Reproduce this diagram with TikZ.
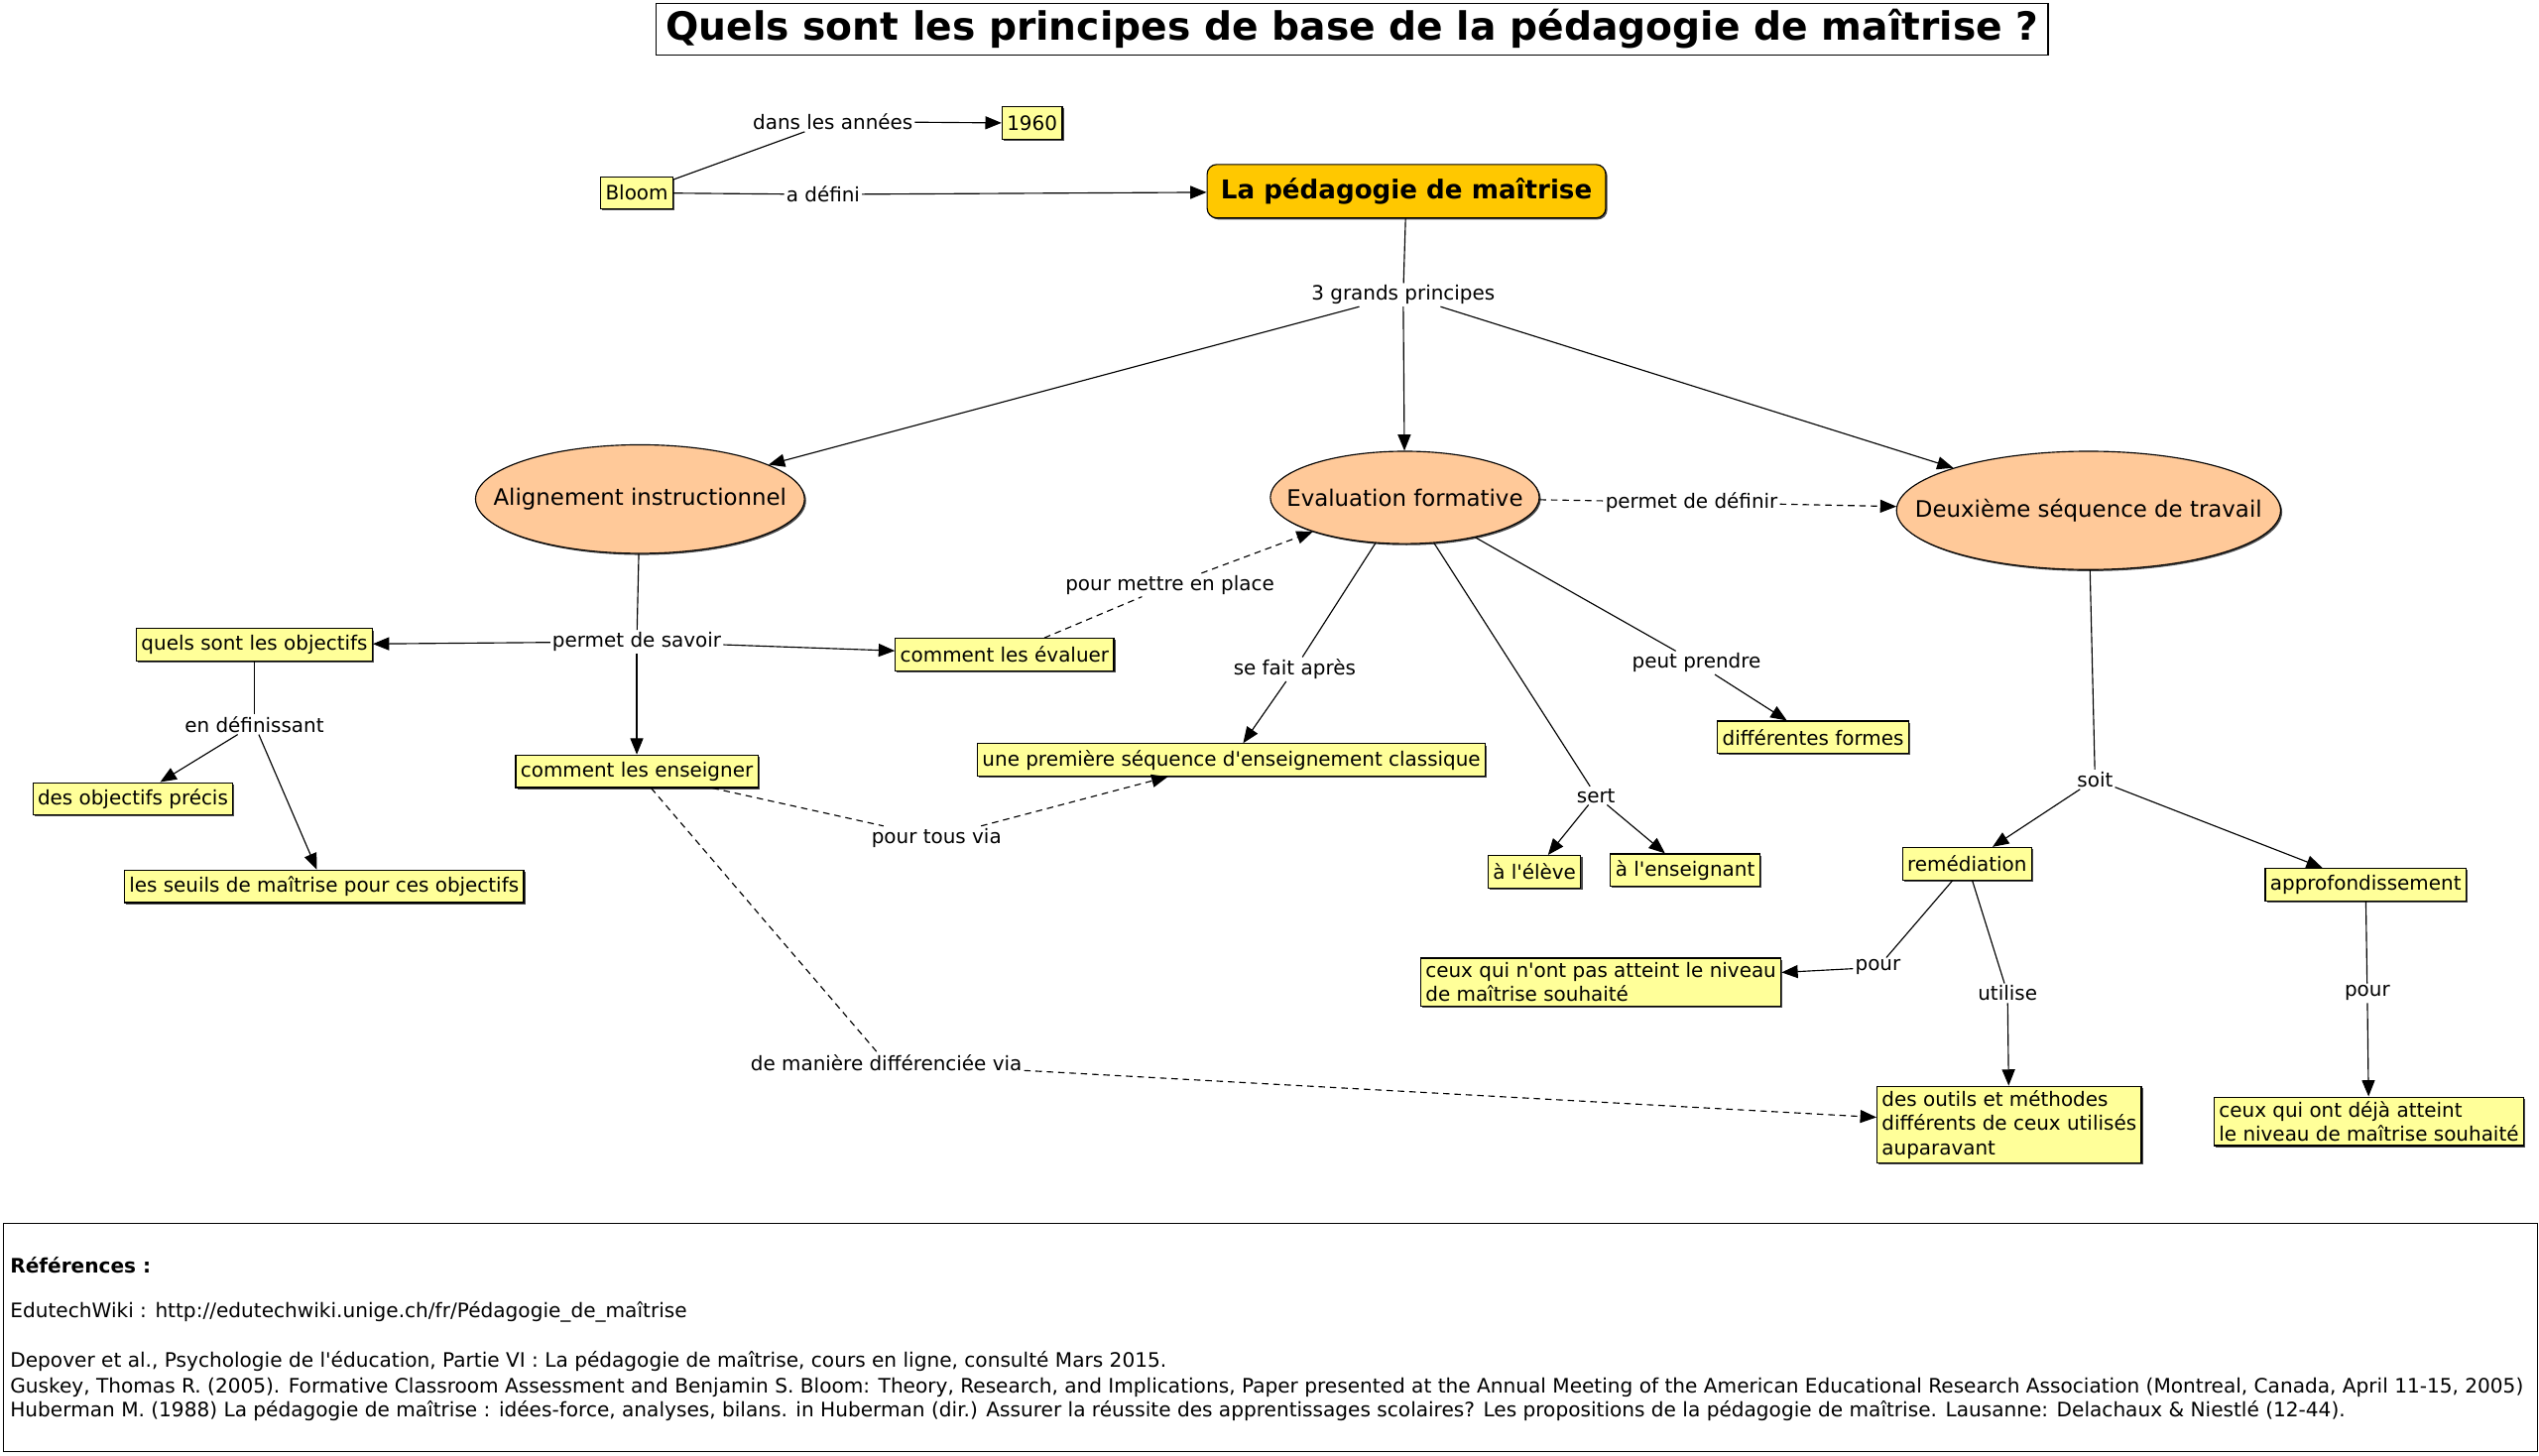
\documentclass[tikz,border=0pt]{standalone}
\usepackage{fontspec}
\setmainfont{DejaVu Sans}[Ligatures=TeXOff]
\usetikzlibrary{shapes.geometric, arrows.meta, shadows}
\definecolor{paleyellow}{RGB}{255,255,153}
\definecolor{peach}{RGB}{255,201,153}
\definecolor{gold}{RGB}{255,200,0}

\begin{document}
\begin{tikzpicture}[x=1pt, y=-1pt, line width=0.7pt,
	every node/.style={font=\fontsize{12.2}{15}\selectfont},
	shade/.style={drop shadow={shadow xshift=1pt, shadow yshift=-1pt, fill=black!70, opacity=1}},
	box/.style={draw, fill=paleyellow, inner xsep=3pt, inner ysep=2.5pt, align=left, minimum height=20pt, shade},
	idea/.style={draw, ellipse, fill=peach, inner xsep=-25pt, inner ysep=0pt, font=\fontsize{14}{16}\selectfont, shade},
	lbl/.style={fill=white, inner sep=1pt},
	arr/.style={-{Triangle[length=10pt, width=8pt]}},
	dsh/.style={dash pattern=on 4pt off 3pt}]
	\useasboundingbox (0, 0) rectangle (1567, 898);
	% titre
	\node[draw, minimum width=859, minimum height=32, inner sep=0pt, font=\bfseries\fontsize{24}{26}\selectfont] (title) at (834.5, 18) {Quels sont les principes de base de la pédagogie de maîtrise ?};
	% concepts
	\node[box] (bloom) at (393, 119) {Bloom};
	\node[box] (year) at (637, 76) {1960};
	\node[draw, rounded corners=6pt, fill=gold, minimum width=246, minimum height=33, font=\bfseries\fontsize{16}{18}\selectfont, shade] (ped) at (868, 118) {La pédagogie de maîtrise};
	\node[idea, minimum width=203, minimum height=67] (align) at (395, 308) {Alignement instructionnel};
	\node[idea, minimum width=166, minimum height=57] (eval) at (867, 307) {Evaluation formative};
	\node[idea, minimum width=237, minimum height=73] (second) at (1289, 315) {Deuxième séquence de travail};
	\node[box] (goals) at (157, 398) {quels sont les objectifs};
	\node[box] (assess) at (620, 404) {comment les évaluer};
	\node[box] (teach) at (393, 476) {comment les enseigner};
	\node[box] (precise) at (82, 493) {des objectifs précis};
	\node[box] (levels) at (200, 547) {les seuils de maîtrise pour ces objectifs};
	\node[box] (first) at (760, 469) {une première séquence d'enseignement classique};
	\node[box] (pupil) at (947, 538) {à l'élève};
	\node[box] (teacher) at (1040, 537) {à l'enseignant};
	\node[box] (forms) at (1119, 455) {différentes formes};
	\node[box] (remed) at (1214, 533) {remédiation};
	\node[box] (deep) at (1460, 546) {approfondissement};
	\node[box] (notyet) at (988, 606) {ceux qui n'ont pas atteint le niveau\\de maîtrise souhaité};
	\node[box] (tools) at (1240, 694) {des outils et méthodes\\différents de ceux utilisés\\auparavant};
	\node[box] (already) at (1462, 692) {ceux qui ont déjà atteint\\le niveau de maîtrise souhaité};
	% liens
	\node[lbl] (l1) at (514, 75) {dans les années};
	\node[lbl] (l2) at (508, 120) {a défini};
	\node[lbl] (l3) at (866, 182) {3 grands principes};
	\node[lbl] (l4) at (393, 396) {permet de savoir};
	\node[lbl] (l5) at (157, 447) {en définissant};
	\node[lbl] (l6) at (722, 361) {pour mettre en place};
	\node[lbl] (l7) at (578, 517) {pour tous via};
	\node[lbl] (l8) at (547, 656) {de manière différenciée via};
	\node[lbl] (l9) at (799, 413) {se fait après};
	\node[lbl] (l10) at (985, 491) {sert};
	\node[lbl] (l11) at (1047, 409) {peut prendre};
	\node[lbl] (l12) at (1044, 310) {permet de définir};
	\node[lbl] (l13) at (1293, 481) {soit};
	\node[lbl] (l14) at (1159, 597) {pour};
	\node[lbl] (l15) at (1239, 613) {utilise};
	\node[lbl] (l16) at (1461, 613) {pour};
	% fleches
	\draw (bloom) -- (l1);
	\draw[arr] (l1) -- (year);
	\draw (bloom) -- (l2);
	\draw[arr] (l2) -- (ped);
	\draw (ped) -- (l3);
	\draw[arr] (l3) -- (align);
	\draw[arr] (l3) -- (eval);
	\draw[arr] (l3) -- (second);
	\draw (align) -- (l4);
	\draw[arr] (l4) -- (goals);
	\draw[arr] (l4) -- (assess);
	\draw[arr] (l4) -- (teach);
	\draw (goals) -- (l5);
	\draw[arr] (l5) -- (precise);
	\draw[arr] (l5) -- (levels);
	\draw[dsh] (assess) -- (l6);
	\draw[arr, dsh] (l6) -- (eval);
	\draw[dsh] (teach) -- (l7);
	\draw[arr, dsh] (l7) -- (first);
	\draw[dsh] (teach) -- (l8);
	\draw[arr, dsh] (l8) -- (tools);
	\draw (eval) -- (l9);
	\draw[arr] (l9) -- (first);
	\draw (eval) -- (l10);
	\draw[arr] (l10) -- (pupil);
	\draw[arr] (l10) -- (teacher);
	\draw (eval) -- (l11);
	\draw[arr] (l11) -- (forms);
	\draw[dsh] (eval) -- (l12);
	\draw[arr, dsh] (l12) -- (second);
	\draw (second) -- (l13);
	\draw[arr] (l13) -- (remed);
	\draw[arr] (l13) -- (deep);
	\draw (remed) -- (l14);
	\draw[arr] (l14) -- (notyet);
	\draw (remed) -- (l15);
	\draw[arr] (l15) -- (tools);
	\draw (deep) -- (l16);
	\draw[arr] (l16) -- (already);
	% references
	\draw (2, 755) rectangle (1566, 896);
	\node[anchor=west, inner sep=0pt, font=\bfseries\fontsize{12.3}{15}\selectfont] (r0) at (6, 781) {Références :};
	\node[anchor=west, inner sep=0pt, font=\fontsize{12.3}{15}\selectfont] (r1) at (6, 810) {EdutechWiki : http://edutechwiki.unige.ch/fr/Pédagogie\_de\_maîtrise};
	\node[anchor=west, inner sep=0pt, font=\fontsize{12.3}{15}\selectfont] (r2) at (6, 840) {Depover et al., Psychologie de l'éducation, Partie VI : La pédagogie de maîtrise, cours en ligne, consulté Mars 2015.};
	\node[anchor=west, inner sep=0pt, font=\fontsize{12.3}{15}\selectfont] (r3) at (6, 856) {Guskey, Thomas R. (2005). Formative Classroom Assessment and Benjamin S. Bloom: Theory, Research, and Implications, Paper presented at the Annual Meeting of the American Educational Research Association (Montreal, Canada, April 11-15, 2005)};
	\node[anchor=west, inner sep=0pt, font=\fontsize{12.3}{15}\selectfont] (r4) at (6, 871) {Huberman M. (1988) La pédagogie de maîtrise : idées-force, analyses, bilans. in Huberman (dir.) Assurer la réussite des apprentissages scolaires? Les propositions de la pédagogie de maîtrise. Lausanne: Delachaux \& Niestlé (12-44).};
\end{tikzpicture}
\end{document}
